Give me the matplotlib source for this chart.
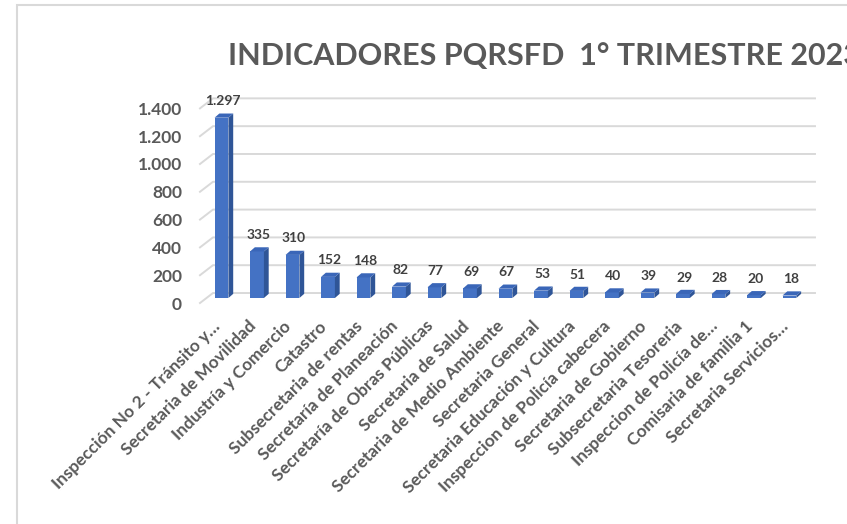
import matplotlib.pyplot as plt
from matplotlib.patches import Polygon, Rectangle
from matplotlib.transforms import ScaledTranslation

# datos del reporte PQRSFD 1er trimestre 2023
areas = [
    "Inspección No 2 - Tránsito y…",
    "Secretaria de Movilidad",
    "Industría y Comercio",
    "Catastro",
    "Subsecretaria de rentas",
    "Secretaría de Planeación",
    "Secretaría de Obras Públicas",
    "Secretaria de Salud",
    "Secretaria de Medio Ambiente",
    "Secretaria General",
    "Secretaria Educación y Cultura",
    "Inspeccion de Policía cabecera",
    "Secretaria de Gobierno",
    "Subsecretaria Tesoreria",
    "Inspeccion de Policía de…",
    "Comisaria de familia 1",
    "Secretaria Servicios…",
]
valores = [1297, 335, 310, 152, 148, 82, 77, 69, 67, 53, 51, 40, 39, 29, 28, 20, 18]
marcas_y = [0, 200, 400, 600, 800, 1000, 1200, 1400]


def miles(v):
    return f"{v:,}".replace(",", ".")


plt.rcParams['font.family'] = ['Lato', 'DejaVu Sans']

azul = "#4472C4"
azul_lado = "#2F5597"
azul_tapa = "#3A66B8"
gris = "#595959"
gris_linea = "#D9D9D9"

fig = plt.figure(figsize=(8.47, 5.24), dpi=100)
ax = fig.add_axes([0.2361, 0.418, 0.7261, 0.398])
x_min, x_max = -0.606, 16.72
ax.set_xlim(x_min, x_max)
ax.set_ylim(-50, 1450)

# profundidad 3D
ancho = 0.39
dx, dy = 0.135, 30
piso_x, piso_y = 0.366, 36

# lineas de division (pared del fondo)
for v in marcas_y:
    ax.plot([x_min, x_min + piso_x, x_max], [v - piso_y, v + piso_y, v + piso_y],
            color=gris_linea, lw=1.4, zorder=1, clip_on=False)

pos = list(range(len(areas)))
ax.bar(pos, valores, width=ancho, color=azul, zorder=3)
for i, v in zip(pos, valores):
    der = i + ancho / 2
    izq = i - ancho / 2
    ax.add_patch(Polygon([(der, 0), (der + dx, dy), (der + dx, v + dy), (der, v)],
                         closed=True, color=azul_lado, zorder=3, lw=0))
    ax.add_patch(Polygon([(izq, v), (izq + dx, v + dy), (der + dx, v + dy), (der, v)],
                         closed=True, color=azul_tapa, zorder=3, lw=0))
    ax.annotate(miles(v), (i, v + dy), xytext=(1, 4.5), textcoords="offset points",
                ha="center", va="bottom", fontsize=10, fontweight="bold", color="#404040")

ax.set_xticks(pos, areas, rotation=45, ha="right", va="baseline", rotation_mode="anchor",
              fontsize=12.4, fontweight="bold", color=gris)
corrimiento = ScaledTranslation(5 / 100, 0, fig.dpi_scale_trans)
for lab in ax.get_xticklabels():
    lab.set_transform(lab.get_transform() + corrimiento)
ax.set_yticks([v - piso_y for v in marcas_y], [miles(v) for v in marcas_y],
              fontsize=12.5, fontweight="bold", color=gris)
ax.tick_params(axis="both", length=0)
ax.tick_params(axis="y", pad=13)
ax.tick_params(axis="x", pad=16)
for s in ax.spines.values():
    s.set_visible(False)

fig.text(228 / 847, 1 - 65 / 524, "INDICADORES PQRSFD  1° TRIMESTRE 2023",
         ha="left", va="baseline", fontsize=22, fontweight="bold", color=gris)

fig.add_artist(Rectangle((17 / 847, -0.1), 2, 1 - 5 / 524 + 0.1, transform=fig.transFigure,
                         fill=False, ec=gris_linea, lw=1.5))

fig.savefig("out.png", dpi=100)
